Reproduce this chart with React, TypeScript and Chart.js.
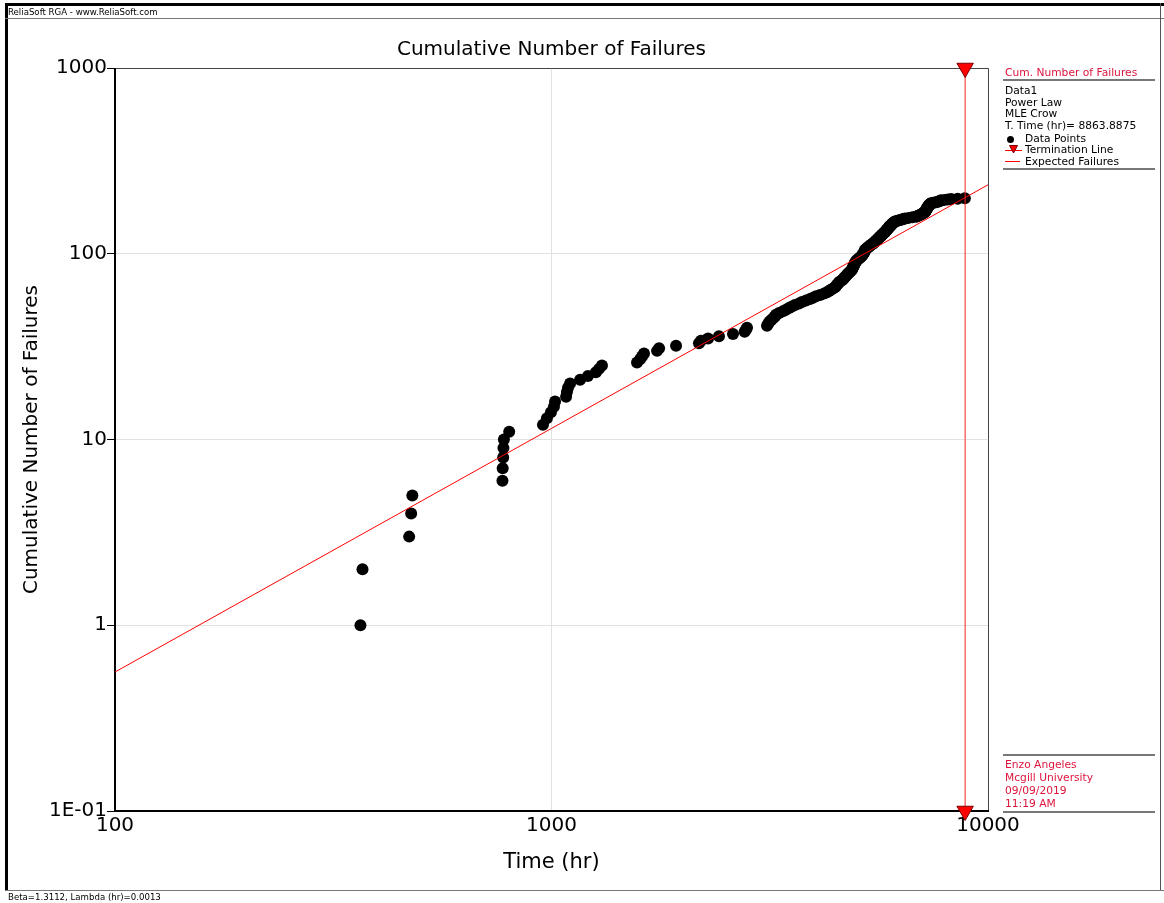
import React, { useEffect, useRef } from "react";
import { Chart, registerables } from "chart.js";

Chart.register(...registerables);

// ---------------- DATA ----------------
const failureTimes = [
  365, 369, 472, 477, 480, 772, 773, 775, 776, 778,
  800, 956, 976, 997, 1013, 1019, 1080, 1085, 1091, 1103,
  1163, 1212, 1264, 1285, 1305, 1570, 1595, 1612, 1629, 1745,
  1764, 1929, 2177, 2200, 2284, 2419, 2605, 2770, 2790, 2805,
  3117, 3137, 3157, 3187, 3219, 3251, 3268, 3321, 3391, 3445,
  3500, 3555, 3612, 3690, 3747, 3828, 3910, 3972, 4036, 4122,
  4210, 4277, 4322, 4368, 4415, 4462, 4485, 4509, 4533, 4557,
  4581, 4630, 4654, 4679, 4703, 4728, 4753, 4778, 4804, 4829,
  4855, 4880, 4890, 4900, 4912, 4925, 4935, 4945, 4955, 4965,
  4985, 5005, 5030, 5055, 5075, 5110, 5130, 5150, 5165, 5180,
  5195, 5205, 5215, 5222, 5230, 5255, 5280, 5305, 5330, 5355,
  5380, 5410, 5435, 5460, 5485, 5510, 5530, 5550, 5570, 5590,
  5610, 5630, 5650, 5670, 5690, 5710, 5730, 5750, 5770, 5790,
  5810, 5825, 5840, 5855, 5870, 5890, 5905, 5920, 5935, 5950,
  5965, 5985, 6000, 6020, 6035, 6055, 6075, 6095, 6120, 6175,
  6230, 6290, 6345, 6400, 6455, 6580, 6710, 6840, 6880, 6920,
  6960, 7000, 7040, 7070, 7100, 7125, 7150, 7170, 7185, 7195,
  7205, 7215, 7225, 7235, 7245, 7255, 7265, 7275, 7285, 7295,
  7310, 7325, 7340, 7355, 7370, 7385, 7400, 7480, 7560, 7640,
  7700, 7745, 7775, 7805, 7950, 8090, 8230, 8520, 8850,
];

const cumulativeFailures = [
  1, 2, 3, 4, 5, 6, 7, 8, 9, 10,
  11, 12, 13, 14, 15, 16, 17, 18, 19, 20,
  21, 22, 23, 24, 25, 26, 27, 28, 29, 30,
  31, 32, 33, 34, 35, 36, 37, 38, 39, 40,
  41, 42, 43, 44, 45, 46, 47, 48, 49, 50,
  51, 52, 53, 54, 55, 56, 57, 58, 59, 60,
  61, 62, 63, 64, 65, 66, 67, 68, 69, 70,
  71, 72, 73, 74, 75, 76, 77, 78, 79, 80,
  81, 82, 83, 84, 85, 86, 87, 88, 89, 90,
  91, 92, 93, 94, 95, 96, 97, 98, 99, 100,
  101, 102, 103, 104, 105, 106, 107, 108, 109, 110,
  111, 112, 113, 114, 115, 116, 117, 118, 119, 120,
  121, 122, 123, 124, 125, 126, 127, 128, 129, 130,
  131, 132, 133, 134, 135, 136, 137, 138, 139, 140,
  141, 142, 143, 144, 145, 146, 147, 148, 149, 150,
  151, 152, 153, 154, 155, 156, 157, 158, 159, 160,
  161, 162, 163, 164, 165, 166, 167, 168, 169, 170,
  171, 172, 173, 174, 175, 176, 177, 178, 179, 180,
  181, 182, 183, 184, 185, 186, 187, 188, 189, 190,
  191, 192, 193, 194, 195, 196, 197, 198, 199,
];

const expectedTimes = [100, 10000];
const expectedFailures = [0.56, 235];

const terminationTime = 8863.8875;
const terminationRange = [0.1, 1000];

const xTicks = [100, 1000, 10000];
const xTickLabels = ["100", "1000", "10000"];
const yTicks = [0.1, 1, 10, 100, 1000];
const yTickLabels = ["1E-01", "1", "10", "100", "1000"];

const legendInfo = ["Data1", "Power Law", "MLE Crow", "T. Time (hr)= 8863.8875"];
const authorInfo = ["Enzo Angeles", "Mcgill University", "09/09/2019", "11:19 AM"];

// ---------------- STYLE ----------------
const FONT = "'DejaVu Sans', Verdana, sans-serif";
const CRIMSON = "#dc143c";

const framePlugin = {
  id: "plotFrame",
  beforeDatasetsDraw(chart: any) {
    const { ctx, chartArea: a } = chart;
    ctx.save();
    ctx.strokeStyle = "#444";
    ctx.lineWidth = 1;
    ctx.beginPath();
    ctx.moveTo(a.left, a.top + 0.5);
    ctx.lineTo(a.right + 0.5, a.top + 0.5);
    ctx.lineTo(a.right + 0.5, a.bottom);
    ctx.stroke();
    ctx.strokeStyle = "#000";
    ctx.lineWidth = 2;
    ctx.beginPath();
    ctx.moveTo(a.left, a.top);
    ctx.lineTo(a.left, a.bottom);
    ctx.lineTo(a.right + 1, a.bottom);
    ctx.stroke();
    ctx.restore();
  },
};

function Txt(props: { x: number; y: number; size: number; color?: string; children: any }) {
  return (
    <div
      style={{
        position: "absolute",
        left: props.x,
        top: props.y - props.size * 0.6,
        height: props.size * 1.2,
        lineHeight: props.size * 1.2 + "px",
        fontSize: props.size,
        fontFamily: FONT,
        color: props.color || "#000",
        whiteSpace: "nowrap",
      }}
    >
      {props.children}
    </div>
  );
}

function Rect(props: { x: number; y: number; w: number; h: number; c: string }) {
  return (
    <div
      style={{
        position: "absolute",
        left: props.x,
        top: props.y,
        width: props.w,
        height: props.h,
        background: props.c,
      }}
    />
  );
}

export default function App() {
  const canvasRef = useRef<HTMLCanvasElement | null>(null);

  useEffect(() => {
    if (!canvasRef.current) return;
    Chart.defaults.font.family = FONT;
    const points = failureTimes.map((t, i) => ({ x: t, y: cumulativeFailures[i] }));
    const expected = expectedTimes.map((t, i) => ({ x: t, y: expectedFailures[i] }));
    const termination = terminationRange.map((v) => ({ x: terminationTime, y: v }));

    const chart = new Chart(canvasRef.current, {
      type: "scatter",
      data: {
        datasets: [
          {
            label: "Termination Line",
            data: termination,
            showLine: true,
            borderColor: "#ff2020",
            borderWidth: 1,
            pointStyle: "triangle",
            rotation: 180,
            pointRadius: 9.5,
            pointBackgroundColor: "#ff0000",
            pointBorderColor: "#7a0000",
            pointBorderWidth: 1,
            clip: false,
            order: 1,
          } as any,
          {
            label: "Expected Failures",
            data: expected,
            showLine: true,
            borderColor: "#ff0000",
            borderWidth: 1,
            pointRadius: 0,
            order: 2,
          },
          {
            label: "Data Points",
            data: points,
            pointRadius: 6,
            pointBackgroundColor: "#000",
            pointBorderWidth: 0,
            order: 3,
          },
        ],
      },
      options: {
        animation: false,
        responsive: false,
        devicePixelRatio: 1,
        layout: { padding: { left: 10, right: 176, top: 68, bottom: 22 } },
        plugins: {
          legend: { display: false },
          tooltip: { enabled: false },
          title: { display: false },
        },
        scales: {
          x: {
            type: "logarithmic",
            min: 100,
            max: 10000,
            afterBuildTicks: (scale: any) => {
              scale.ticks = xTicks.map((v) => ({ value: v }));
            },
            afterFit: (scale: any) => {
              scale.height = 70;
            },
            ticks: {
              autoSkip: false,
              maxRotation: 0,
              padding: 3,
              color: "#000",
              font: { size: 20, family: FONT },
              callback: (value: any) => {
                const i = xTicks.indexOf(Number(value));
                return i >= 0 ? xTickLabels[i] : "";
              },
            },
            grid: { color: "#e2e2e2", lineWidth: 1, drawTicks: false },
            border: { display: false },
            title: {
              display: true,
              text: "Time (hr)",
              color: "#000",
              font: { size: 21, family: FONT },
              padding: { top: 0, bottom: 6 },
            },
          },
          y: {
            type: "logarithmic",
            min: 0.1,
            max: 1000,
            afterBuildTicks: (scale: any) => {
              scale.ticks = yTicks.map((v) => ({ value: v }));
            },
            afterFit: (scale: any) => {
              scale.width = 105;
            },
            ticks: {
              autoSkip: false,
              padding: 0,
              color: "#000",
              font: { size: 20, family: FONT },
              callback: (value: any) => {
                const i = yTicks.indexOf(Number(value));
                return i >= 0 ? yTickLabels[i] : "";
              },
            },
            grid: { color: "#e2e2e2", lineWidth: 1, tickLength: 8, tickColor: "#000" },
            border: { display: false },
            title: {
              display: true,
              text: "Cumulative Number of Failures",
              color: "#000",
              font: { size: 20, family: FONT },
              padding: { top: 10, bottom: 0 },
            },
          },
        },
      },
      plugins: [framePlugin],
    });
    return () => chart.destroy();
  }, []);

  return (
    <div
      style={{
        position: "fixed",
        left: 0,
        top: 0,
        width: 1164,
        height: 903,
        background: "#fff",
        overflow: "hidden",
      }}
    >
      <canvas ref={canvasRef} width={1164} height={903} style={{ position: "absolute", left: 0, top: 0 }} />

      {/* outer frame */}
      <Rect x={5} y={3} w={1159} h={3} c="#000" />
      <Rect x={5} y={3} w={3} h={887} c="#000" />
      <Rect x={5} y={18} w={1159} h={1} c="#777" />
      <Rect x={5} y={890} w={1159} h={1} c="#777" />
      <Rect x={1160} y={3} w={1} h={887} c="#555" />
      <Txt x={8} y={12.5} size={8.6}>ReliaSoft RGA - www.ReliaSoft.com</Txt>
      <Txt x={8} y={897} size={8.6}>Beta=1.3112, Lambda (hr)=0.0013</Txt>

      {/* chart title */}
      <div
        style={{
          position: "absolute",
          left: 115,
          width: 873,
          top: 36,
          lineHeight: "24px",
          fontSize: 20,
          fontFamily: FONT,
          textAlign: "center",
          color: "#000",
        }}
      >
        Cumulative Number of Failures
      </div>

      {/* legend */}
      <Txt x={1005} y={73.3} size={10.7} color={CRIMSON}>Cum. Number of Failures</Txt>
      <Rect x={1003} y={79} w={152} h={2} c="#777" />
      {legendInfo.map((s, i) => (
        <Txt key={s} x={1005} y={91.5 + i * 11.7} size={10.7}>{s}</Txt>
      ))}
      <div style={{ position: "absolute", left: 1007, top: 135.5, width: 7, height: 7, borderRadius: 4, background: "#000" }} />
      <Txt x={1025} y={139} size={10.7}>Data Points</Txt>
      <Rect x={1005} y={150} w={17} h={1} c="#ff0000" />
      <svg style={{ position: "absolute", left: 1009, top: 145 }} width={9} height={9}>
        <polygon points="0.5,0.5 8.5,0.5 4.5,8" fill="#ff0000" stroke="#7a0000" strokeWidth="1" />
      </svg>
      <Txt x={1025} y={150.5} size={10.7}>Termination Line</Txt>
      <Rect x={1005} y={161} w={15} h={1} c="#ff0000" />
      <Txt x={1025} y={162} size={10.7}>Expected Failures</Txt>
      <Rect x={1003} y={168} w={152} h={2} c="#777" />

      {/* author box */}
      <Rect x={1003} y={754} w={152} h={2} c="#777" />
      {authorInfo.map((s, i) => (
        <Txt key={s} x={1005} y={765 + i * 13} size={10.7} color={CRIMSON}>{s}</Txt>
      ))}
      <Rect x={1003} y={811} w={152} h={2} c="#777" />
    </div>
  );
}
